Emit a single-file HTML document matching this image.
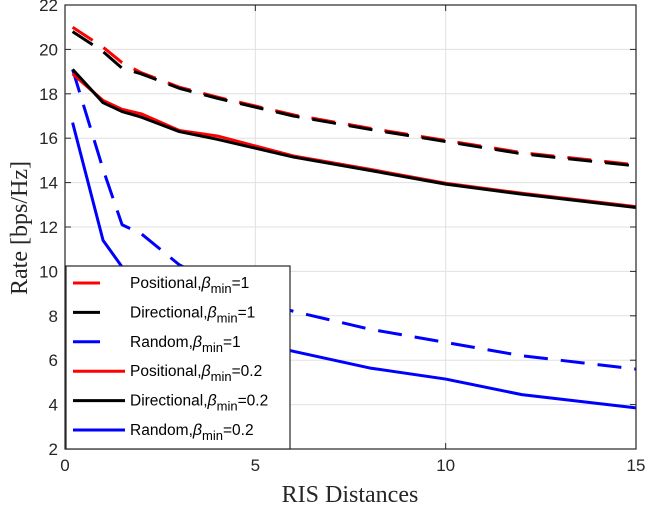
<!DOCTYPE html>
<html><head><meta charset="utf-8"><style>
body{margin:0;background:#fff}
svg text{font-family:"Liberation Sans",sans-serif}
svg text.serif{font-family:"Liberation Serif",serif}
</style></head><body>
<svg id="c" width="646" height="507" xmlns="http://www.w3.org/2000/svg"></svg>
<script>
const xVals=[0.2,1,1.5,2,3,4,5,6,8,10,12,15];
const posB1=[21.0,20.1,19.4,18.95,18.3,17.85,17.45,17.05,16.45,15.9,15.35,14.8];
const dirB1=[20.8,19.9,19.15,18.9,18.25,17.8,17.4,17.0,16.4,15.85,15.3,14.75];
const ranB1=[19.1,14.6,12.1,11.7,10.3,9.4,8.7,8.2,7.4,6.8,6.2,5.6];
const posB02=[18.9,17.7,17.3,17.1,16.35,16.1,15.65,15.2,14.6,13.97,13.52,12.92];
const dirB02=[19.1,17.6,17.2,16.95,16.3,15.95,15.55,15.15,14.55,13.93,13.48,12.88];
const ranB02=[16.7,11.4,10.2,9.5,8.0,7.2,6.8,6.4,5.65,5.15,4.45,3.85];
const xTicks=[0,5,10,15];
const yTicks=[2,4,6,8,10,12,14,16,18,20,22];
const legendLabels=["Positional,","Directional,","Random,","Positional,","Directional,","Random,"];
const legendVals=["=1","=1","=1","=0.2","=0.2","=0.2"];
const L=65,R=636,T=5,B=449;
const sx=v=>L+(v-0)/15*(R-L);
const sy=v=>B-(v-2)/20*(B-T);
const svg=document.getElementById('c');
const NS='http://www.w3.org/2000/svg';
function mk(t,a,p){const e=document.createElementNS(NS,t);for(const k in a)e.setAttribute(k,a[k]);(p||svg).appendChild(e);return e;}
xTicks.forEach(v=>{const g=mk('line',{x1:sx(v),x2:sx(v),y1:T,y2:B,stroke:'#e0e0e0','stroke-width':1});

});
yTicks.forEach(v=>{const g=mk('line',{x1:L,x2:R,y1:sy(v),y2:sy(v),stroke:'#e0e0e0','stroke-width':1});

});
const series=[[posB1,'#ff0000',true,'positional-beta1-line'],[dirB1,'#000',true,'directional-beta1-line'],[ranB1,'#0000ff',true,'random-beta1-line'],[posB02,'#ff0000',false,'positional-beta02-line'],[dirB02,'#000',false,'directional-beta02-line'],[ranB02,'#0000ff',false,'random-beta02-line']];
series.forEach(([d,c,dash,n],i)=>{
const pts=xVals.map((x,j)=>sx(x)+','+sy(d[j])).join(' ');
const a={points:pts,fill:'none',stroke:c,'stroke-width':3,'stroke-linejoin':'round'};
if(dash)a['stroke-dasharray']='24,13';
const p=mk('polyline',a);


});
const box=mk('rect',{x:L,y:T,width:R-L,height:B-T,fill:'none',stroke:'#262626','stroke-width':1.2});


xTicks.forEach(v=>{mk('line',{x1:sx(v),x2:sx(v),y1:B,y2:B-6,stroke:'#262626'});mk('line',{x1:sx(v),x2:sx(v),y1:T,y2:T+6,stroke:'#262626'});
const t=mk('text',{x:sx(v),y:B+22,'text-anchor':'middle','font-size':17,fill:'#262626'});t.textContent=v;

});
yTicks.forEach(v=>{mk('line',{x1:L,x2:L+6,y1:sy(v),y2:sy(v),stroke:'#262626'});mk('line',{x1:R,x2:R-6,y1:sy(v),y2:sy(v),stroke:'#262626'});
const t=mk('text',{x:L-7,y:sy(v)+6,'text-anchor':'end','font-size':17,fill:'#262626'});t.textContent=v;

});
const xt=mk('text',{x:350,y:502,'text-anchor':'middle','font-size':24,fill:'#262626',class:'serif'});xt.textContent='RIS Distances';


const yt=mk('text',{x:0,y:0,'text-anchor':'middle','font-size':24,fill:'#262626',class:'serif',transform:'translate(27,228) rotate(-90)'});yt.textContent='Rate [bps/Hz]';


const lg=mk('g',{});


mk('rect',{x:66,y:266,width:224,height:183,fill:'#fff',stroke:'#262626','stroke-width':1.2},lg);
const cols=['#ff0000','#000','#0000ff','#ff0000','#000','#0000ff'];
legendLabels.forEach((lab,i)=>{
const y=283+i*29.4;const dash=i<3;
const e=mk('g',{},lg);


mk('line',{x1:73,x2:dash?100:125,y1:y,y2:y,stroke:cols[i],'stroke-width':3},e);
const t=mk('text',{x:130,y:y+5,'font-size':15.5,fill:'#000'},e);
t.textContent=lab;
const b=mk('tspan',{'font-style':'italic','font-size':16},t);b.textContent='β';
const s=mk('tspan',{dy:5,'font-size':13},t);s.textContent='min';
const v=mk('tspan',{dy:-5},t);v.textContent=legendVals[i];
});
</script>
</body></html>
